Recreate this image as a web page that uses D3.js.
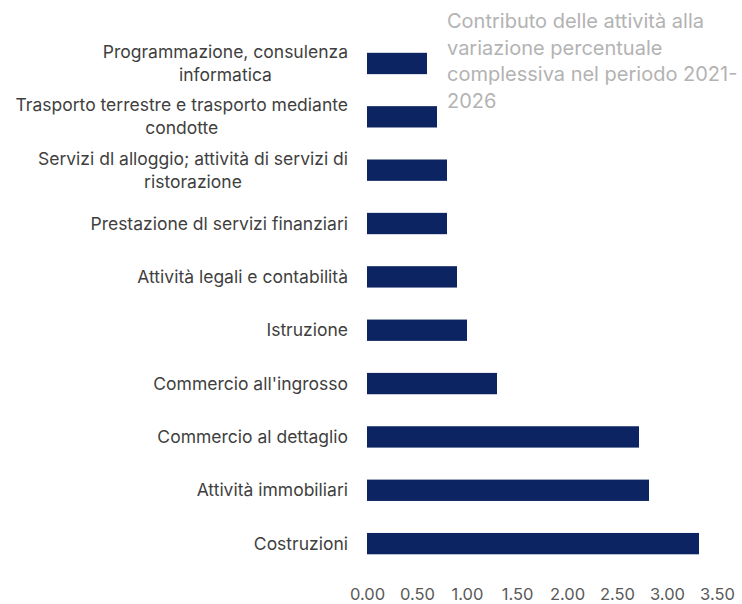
<!DOCTYPE html>
<html>
<head>
<meta charset="utf-8">
<script src="https://cdn.jsdelivr.net/npm/d3@7"></script>
<style>
  html, body { margin: 0; padding: 0; background: #fff; }
  svg { display: block; font-family: Inter, "Liberation Sans", Arial, sans-serif; }
</style>
</head>
<body>
<svg id="chart" width="742" height="604"></svg>
<script>
// Sectors (line breaks marked with \n) and their contribution values
const categories = [
  "Programmazione, consulenza\ninformatica",
  "Trasporto terrestre e trasporto mediante\ncondotte",
  "Servizi dl alloggio; attività di servizi di\nristorazione",
  "Prestazione dl servizi finanziari",
  "Attività legali e contabilità",
  "Istruzione",
  "Commercio all'ingrosso",
  "Commercio al dettaglio",
  "Attività immobiliari",
  "Costruzioni"
];
const values = [0.60, 0.70, 0.80, 0.80, 0.90, 1.00, 1.30, 2.72, 2.82, 3.32];
const xTicks = [0, 0.5, 1, 1.5, 2, 2.5, 3, 3.5];
const titleLines = [
  "Contributo delle attività alla",
  "variazione percentuale",
  "complessiva nel periodo 2021-",
  "2026"
];

const svg = d3.select("#chart");
const plotLeft = 367, plotRight = 717;
const labelRight = 348;

const x = d3.scaleLinear().domain([0, 3.5]).range([plotLeft, plotRight]);
const y = d3.scaleBand()
  .domain(categories)
  .range([36.8, 570.3])
  .paddingInner(0.6)
  .paddingOuter(0.3);

// Bars
svg.append("g").selectAll("rect")
  .data(values)
  .join("rect")
  .attr("x", x(0))
  .attr("y", (d, i) => y(categories[i]))
  .attr("width", d => x(d) - x(0))
  .attr("height", y.bandwidth())
  .attr("fill", "#0c2461");

// X axis labels (no axis line, no ticks)
const xAxis = svg.append("g")
  .attr("transform", "translate(0,588)")
  .call(d3.axisBottom(x).tickValues(xTicks).tickFormat(d3.format(".2f")).tickSize(0).tickPadding(0));
xAxis.select(".domain").remove();
xAxis.selectAll("text")
  .attr("dy", "0.71em")
  .attr("fill", "#595959")
  .style("font-size", "16.5px")
  .style("font-family", "Inter, Liberation Sans, Arial, sans-serif");

// Category labels: right-aligned block, lines centred within it
const lineH = 23;
const labels = svg.append("g")
  .style("font-size", "17.5px")
  .attr("fill", "#3f3f3f");
categories.forEach(c => {
  const lines = c.split("\n");
  const cy = y(c) + y.bandwidth() / 2;
  const t = labels.append("text").attr("text-anchor", "middle");
  lines.forEach((ln, k) => {
    t.append("tspan")
      .attr("y", cy + (k - (lines.length - 1) / 2) * lineH)
      .attr("dy", "0.35em")
      .text(ln);
  });
  let maxW = 0;
  t.selectAll("tspan").each(function () { maxW = Math.max(maxW, this.getComputedTextLength()); });
  t.selectAll("tspan").attr("x", labelRight - maxW / 2);
});

// Title block at top right
const title = svg.append("text")
  .attr("x", 447)
  .attr("fill", "#b3b3b3")
  .style("font-size", "20px");
titleLines.forEach((ln, k) => {
  title.append("tspan").attr("x", 447).attr("y", 28 + k * 26.5).text(ln);
});
</script>
</body>
</html>
